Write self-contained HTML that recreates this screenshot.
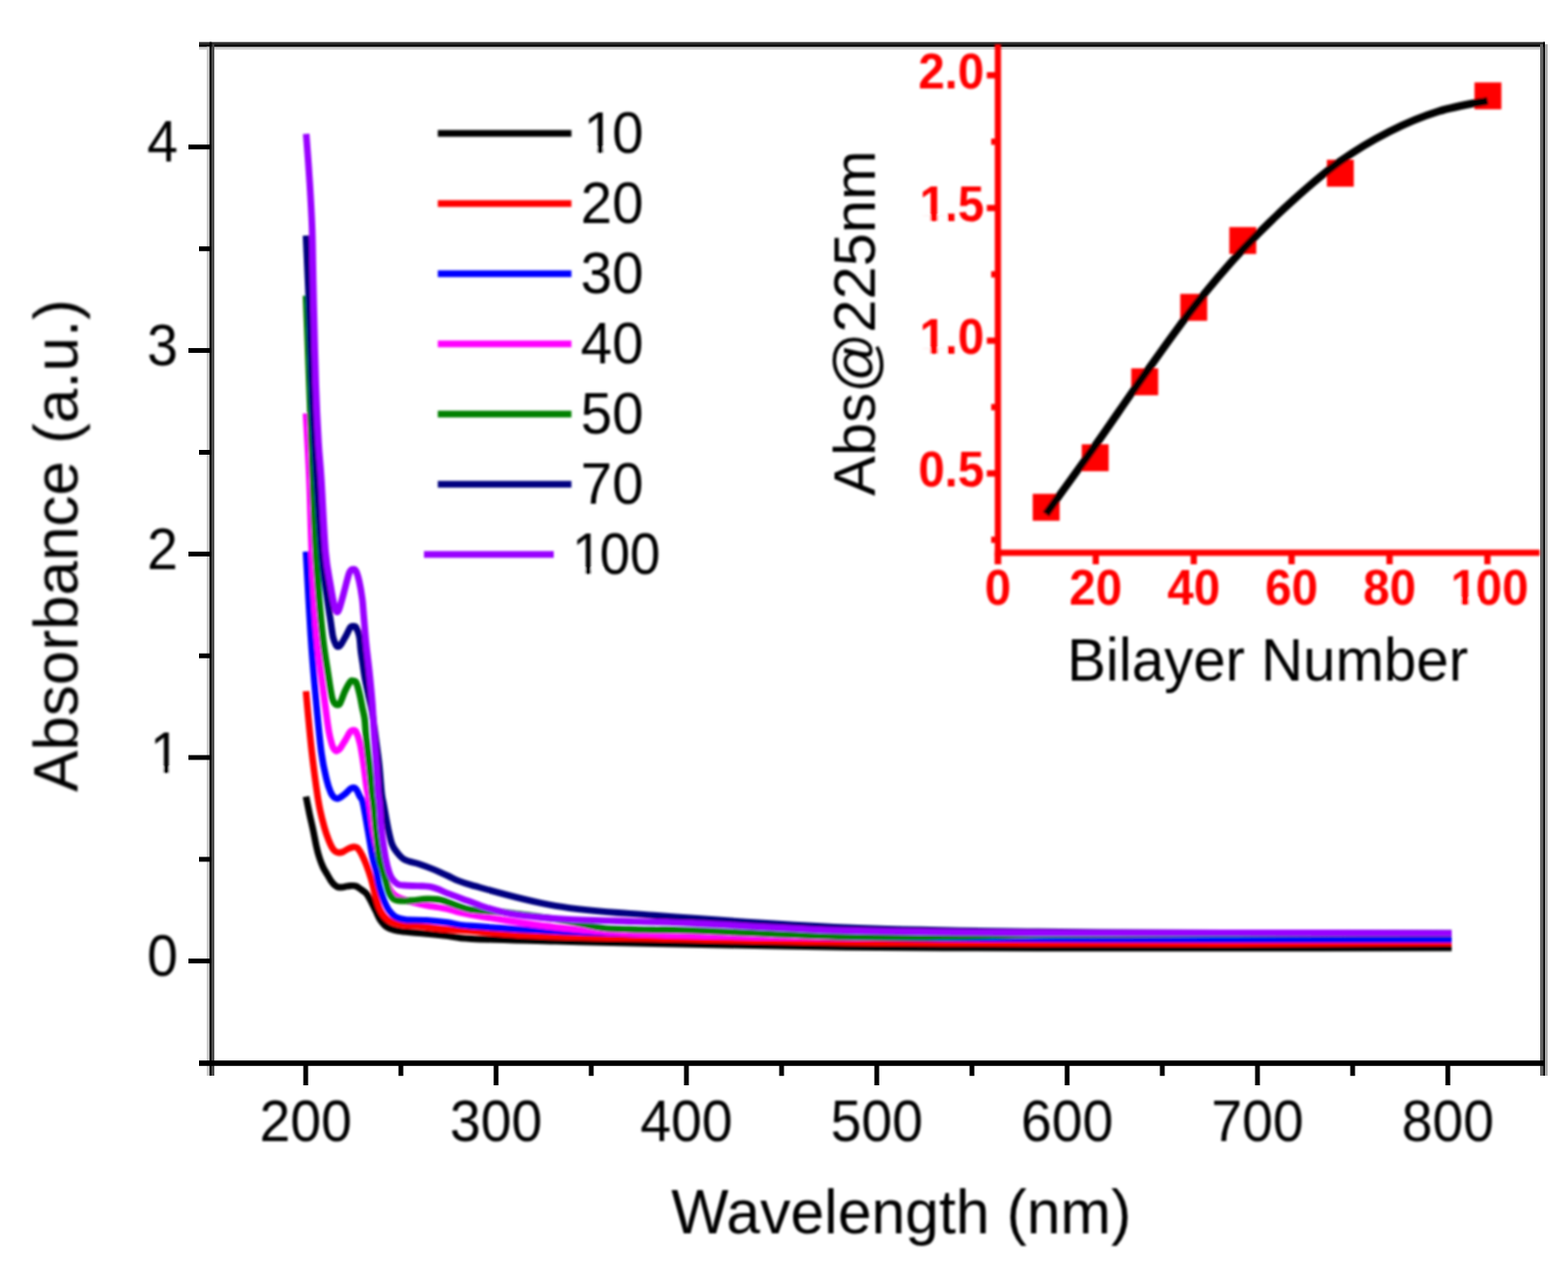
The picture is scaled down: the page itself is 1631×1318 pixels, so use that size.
<!DOCTYPE html>
<html lang="en">
<head>
<meta charset="utf-8">
<title>UV-Vis absorbance spectra</title>
<style>
html,body{margin:0;padding:0;background:#ffffff;}
body{width:1631px;height:1318px;}
svg{display:block;}
</style>
</head>
<body>
<svg width="1631" height="1318" viewBox="0 0 1631 1318" role="img" aria-label="UV-Vis absorbance spectra of multilayer films with inset of absorbance at 225 nm versus bilayer number">
<defs>
<filter id="soft" filterUnits="userSpaceOnUse" x="0" y="0" width="1631" height="1318"><feGaussianBlur stdDeviation="0.90"/></filter>
<filter id="soft2" filterUnits="userSpaceOnUse" x="0" y="0" width="1631" height="1318"><feGaussianBlur stdDeviation="0.45"/></filter>
</defs>
<rect x="0" y="0" width="1631" height="1318" fill="#ffffff"/>
<g filter="url(#soft)">
<g fill="none" stroke-width="6.9" stroke-linejoin="round" stroke-linecap="butt">
<path stroke="#000000" d="M318.3 828.6 C318.9 831.7 320.8 841.3 322.0 847.0 C323.2 852.7 324.4 857.5 325.6 863.0 C326.8 868.5 327.9 875.0 329.0 880.0 C330.1 885.0 331.3 889.3 332.5 893.0 C333.7 896.7 334.8 899.3 336.0 902.0 C337.2 904.7 338.6 906.6 340.0 909.0 C341.4 911.4 343.0 914.4 344.4 916.4 C345.8 918.4 347.1 919.9 348.5 921.0 C349.9 922.1 350.8 922.8 352.5 923.0 C354.2 923.2 356.6 922.8 358.5 922.5 C360.4 922.2 362.6 921.7 364.0 921.5 C365.4 921.3 366.2 921.4 367.2 921.4 C368.2 921.4 368.8 921.3 370.0 921.8 C371.2 922.3 373.4 923.7 374.6 924.5 C375.8 925.3 376.3 925.6 377.4 926.5 C378.5 927.4 380.0 928.2 381.2 929.7 C382.4 931.2 383.1 932.4 384.7 935.3 C386.3 938.2 388.8 943.4 390.6 947.1 C392.5 950.8 393.7 954.5 395.8 957.4 C397.9 960.3 400.0 963.0 403.1 964.8 C406.2 966.6 408.7 967.4 414.2 968.4 C419.7 969.4 427.6 969.7 436.2 970.6 C444.8 971.5 456.7 972.6 465.7 973.6 C474.7 974.6 471.3 975.6 490.0 976.5 C508.7 977.4 546.3 978.2 578.0 979.1 C609.7 980.0 629.7 980.6 680.0 981.6 C730.3 982.6 813.3 984.4 880.0 985.2 C946.7 986.0 1013.3 986.0 1080.0 986.2 C1146.7 986.4 1208.3 986.4 1280.0 986.4 C1351.7 986.4 1471.7 986.1 1510.0 986.0"/>
<path stroke="#ff0000" d="M318.3 719.0 C318.7 723.5 319.7 735.4 320.7 746.0 C321.7 756.6 323.0 770.4 324.4 782.9 C325.8 795.4 327.9 811.0 329.3 821.0 C330.7 831.0 331.6 836.3 333.0 843.0 C334.4 849.7 336.1 856.0 337.5 861.0 C338.9 866.0 340.2 869.6 341.5 873.0 C342.8 876.4 344.1 879.4 345.3 881.5 C346.5 883.6 347.3 884.6 348.5 885.5 C349.7 886.4 351.1 886.9 352.5 887.0 C353.9 887.1 355.4 886.7 357.0 886.0 C358.6 885.3 360.3 883.8 362.0 883.0 C363.7 882.2 365.9 881.4 367.2 881.1 C368.5 880.8 369.1 881.0 370.0 881.3 C370.9 881.5 371.3 881.2 372.4 882.6 C373.5 884.0 375.4 887.1 376.8 889.9 C378.2 892.7 379.4 895.4 381.0 899.5 C382.6 903.6 384.7 909.7 386.2 914.7 C387.7 919.7 388.5 924.5 389.9 929.4 C391.2 934.3 392.7 940.3 394.3 944.2 C395.9 948.1 397.3 950.5 399.4 953.0 C401.5 955.5 403.7 957.4 406.8 958.9 C409.9 960.4 412.9 961.5 417.8 962.2 C422.7 962.9 429.4 962.6 436.2 963.3 C442.9 964.0 449.3 965.4 458.3 966.2 C467.3 967.1 476.6 967.3 490.0 968.4 C503.4 969.5 520.7 971.5 539.0 972.6 C557.3 973.7 576.5 974.2 600.0 974.8 C623.5 975.4 633.3 975.5 680.0 976.4 C726.7 977.3 813.3 979.4 880.0 980.2 C946.7 981.0 1013.3 981.0 1080.0 981.2 C1146.7 981.4 1208.3 981.7 1280.0 981.6 C1351.7 981.5 1471.7 980.9 1510.0 980.8"/>
<path stroke="#0000ff" d="M318.3 573.8 C319.1 588.2 321.6 635.4 323.2 660.0 C324.8 684.6 326.2 701.0 328.1 721.5 C330.0 742.0 332.3 767.8 334.3 782.9 C336.3 798.0 338.4 805.1 340.0 812.0 C341.6 818.9 342.9 821.6 344.1 824.5 C345.4 827.4 346.4 828.5 347.5 829.5 C348.6 830.5 349.9 830.7 351.0 830.7 C352.1 830.7 352.7 830.3 354.0 829.5 C355.3 828.7 357.1 827.5 358.8 826.0 C360.6 824.5 363.0 821.6 364.5 820.5 C366.0 819.4 366.6 819.3 367.6 819.4 C368.6 819.5 369.3 819.4 370.5 821.0 C371.7 822.6 373.4 826.7 374.6 829.0 C375.8 831.3 376.1 829.3 377.5 835.0 C378.9 840.7 381.0 853.8 382.7 863.4 C384.4 873.0 386.4 885.8 387.8 892.9 C389.2 900.0 390.2 901.1 391.3 906.0 C392.4 910.9 393.1 916.9 394.5 922.0 C395.9 927.1 397.7 932.6 399.4 936.8 C401.1 941.0 402.6 944.3 404.6 947.1 C406.6 949.9 408.4 952.1 411.2 953.7 C414.0 955.3 416.1 956.1 421.5 956.7 C426.9 957.3 436.2 956.9 443.6 957.4 C451.0 957.9 458.0 958.6 465.7 959.6 C473.4 960.6 471.3 961.8 490.0 963.3 C508.7 964.8 546.3 967.1 578.0 968.5 C609.7 969.9 629.7 970.4 680.0 971.5 C730.3 972.6 813.3 974.4 880.0 975.3 C946.7 976.2 1013.3 976.5 1080.0 976.8 C1146.7 977.1 1208.3 977.2 1280.0 977.3 C1351.7 977.4 1471.7 977.3 1510.0 977.3"/>
<path stroke="#ff00ff" d="M318.3 430.0 C318.9 441.7 320.9 476.0 321.9 500.0 C322.9 524.0 323.1 547.1 324.3 573.8 C325.5 600.5 327.2 635.4 329.3 660.0 C331.4 684.6 334.6 705.1 336.7 721.5 C338.8 737.9 340.2 749.5 341.6 758.3 C343.0 767.1 344.2 770.9 345.3 774.5 C346.4 778.1 347.2 778.9 348.0 780.0 C348.8 781.1 349.4 781.4 350.3 781.2 C351.2 781.0 352.1 780.8 353.5 779.0 C354.9 777.2 357.0 773.6 358.8 770.6 C360.6 767.6 363.0 762.8 364.5 761.0 C366.0 759.2 366.6 759.7 367.6 759.8 C368.6 759.9 369.3 759.2 370.5 761.5 C371.7 763.8 373.3 768.1 374.6 773.8 C375.9 779.5 377.2 788.5 378.3 795.9 C379.4 803.2 380.2 811.7 381.2 817.9 C382.1 824.1 382.8 825.4 384.0 833.0 C385.2 840.6 386.6 853.4 388.3 863.4 C390.1 873.4 392.9 886.1 394.5 893.0 C396.1 899.9 396.8 901.0 398.0 905.0 C399.2 909.0 400.7 913.5 402.0 917.0 C403.3 920.5 404.5 923.6 406.0 926.0 C407.5 928.4 409.0 930.0 411.0 931.5 C413.0 933.0 415.0 933.8 418.0 935.0 C421.0 936.2 424.6 937.4 428.9 938.5 C433.2 939.6 437.5 940.7 443.6 941.9 C449.7 943.1 458.0 944.0 465.7 945.6 C473.4 947.2 471.3 948.3 490.0 951.5 C508.7 954.7 546.3 961.2 578.0 964.6 C609.7 968.0 629.7 970.3 680.0 972.0 C730.3 973.7 813.3 974.9 880.0 975.0 C946.7 975.1 1013.3 973.4 1080.0 972.8 C1146.7 972.2 1208.3 971.7 1280.0 971.5 C1351.7 971.3 1471.7 971.5 1510.0 971.5"/>
<path stroke="#008000" d="M318.3 307.5 C318.8 319.6 320.1 354.6 321.0 380.0 C321.9 405.4 323.1 435.0 324.0 460.0 C324.9 485.0 325.6 508.3 326.5 530.0 C327.4 551.7 328.0 568.3 329.5 590.0 C331.0 611.7 333.5 641.2 335.5 660.0 C337.5 678.8 340.0 692.1 341.6 703.0 C343.2 713.9 344.2 720.5 345.3 725.2 C346.4 730.0 347.1 730.2 348.0 731.5 C348.9 732.8 350.0 733.3 351.0 733.2 C352.0 733.1 352.7 733.4 354.0 731.0 C355.3 728.6 357.1 722.7 358.8 719.0 C360.6 715.3 363.0 710.8 364.5 709.0 C366.0 707.2 366.6 708.2 367.6 708.4 C368.6 708.6 369.5 707.9 370.5 710.0 C371.5 712.1 372.8 716.7 373.8 721.0 C374.9 725.3 375.9 731.2 376.8 735.7 C377.7 740.2 378.6 742.9 379.3 748.0 C380.0 753.1 380.0 758.4 380.8 766.4 C381.6 774.4 383.1 786.1 384.2 795.9 C385.2 805.7 386.4 818.6 387.1 825.3 C387.8 832.0 387.9 829.6 388.6 836.0 C389.3 842.4 390.1 853.9 391.1 863.4 C392.1 872.9 393.5 886.5 394.5 892.9 C395.5 899.3 396.1 898.4 397.2 902.0 C398.3 905.6 399.7 910.4 400.9 914.7 C402.1 919.0 403.1 924.6 404.6 928.0 C406.1 931.4 407.5 933.8 409.7 935.3 C411.9 936.8 414.8 936.8 418.0 937.0 C421.2 937.2 424.6 937.1 428.9 936.8 C433.2 936.5 438.7 935.4 443.6 935.3 C448.5 935.2 453.4 935.1 458.3 936.1 C463.2 937.1 467.7 939.5 473.0 941.2 C478.3 942.9 483.0 945.3 490.0 946.4 C497.0 947.5 506.8 947.3 515.0 948.0 C523.2 948.7 529.8 949.6 539.0 950.7 C548.2 951.8 559.8 953.3 570.0 954.8 C580.2 956.3 590.5 958.1 600.0 959.9 C609.5 961.6 617.8 964.1 627.0 965.3 C636.2 966.4 646.2 966.5 655.0 966.8 C663.8 967.1 669.2 967.1 680.0 967.3 C690.8 967.5 686.7 966.7 720.0 967.9 C753.3 969.1 833.3 973.3 880.0 974.4 C926.7 975.5 966.7 974.5 1000.0 974.2 C1033.3 973.9 1033.3 973.1 1080.0 972.6 C1126.7 972.1 1208.3 971.7 1280.0 971.5 C1351.7 971.3 1471.7 971.5 1510.0 971.5"/>
<path stroke="#000080" d="M318.3 245.0 C318.9 259.2 320.9 300.8 322.0 330.0 C323.1 359.2 323.8 391.7 325.0 420.0 C326.2 448.3 327.6 472.3 329.3 500.0 C331.1 527.7 333.6 565.5 335.5 586.0 C337.4 606.5 339.0 612.6 340.4 622.9 C341.8 633.1 343.1 640.8 344.1 647.5 C345.1 654.2 345.6 659.1 346.5 663.0 C347.4 666.9 348.6 669.4 349.5 671.0 C350.4 672.6 351.2 672.8 352.1 672.6 C353.0 672.4 353.7 671.9 355.0 670.0 C356.3 668.1 358.5 663.9 360.1 661.0 C361.7 658.1 363.2 654.1 364.5 652.5 C365.8 650.9 366.6 651.4 367.6 651.5 C368.6 651.6 369.5 651.2 370.5 653.0 C371.5 654.8 373.0 658.1 373.8 662.1 C374.6 666.1 374.7 671.9 375.3 676.8 C375.9 681.7 376.8 686.6 377.5 691.5 C378.2 696.4 378.7 701.0 379.7 706.2 C380.7 711.5 382.1 717.4 383.3 723.0 C384.5 728.6 385.8 732.5 387.0 740.0 C388.2 747.5 389.6 758.7 390.8 768.0 C392.0 777.3 393.4 786.4 394.4 795.9 C395.4 805.4 396.2 818.6 397.0 825.3 C397.8 832.0 397.7 829.6 398.9 836.0 C400.1 842.4 402.5 856.4 404.0 863.4 C405.5 870.4 406.3 874.3 407.7 878.0 C409.1 881.7 409.9 882.8 412.1 885.5 C414.3 888.2 417.0 892.1 420.9 894.3 C424.8 896.5 430.7 897.1 435.7 898.8 C440.7 900.5 445.9 902.4 450.9 904.4 C455.9 906.4 459.2 908.3 465.7 911.0 C472.2 913.7 471.3 915.4 490.0 920.6 C508.7 925.8 546.3 937.0 578.0 942.3 C609.7 947.6 629.7 948.4 680.0 952.2 C730.3 956.0 813.3 962.1 880.0 965.0 C946.7 967.9 1013.3 968.4 1080.0 969.3 C1146.7 970.2 1208.3 970.2 1280.0 970.5 C1351.7 970.8 1471.7 970.9 1510.0 971.0"/>
<path stroke="#9900ff" d="M318.5 139.2 C319.1 147.8 321.2 174.6 322.2 190.7 C323.2 206.8 324.0 220.8 324.6 236.0 C325.2 251.2 325.3 268.0 325.6 282.0 C325.9 296.0 325.9 300.3 326.4 320.0 C326.9 339.7 327.7 376.7 328.5 400.0 C329.3 423.3 330.3 443.3 331.3 460.0 C332.3 476.7 333.1 481.0 334.3 500.0 C335.5 519.0 337.0 555.4 338.6 573.8 C340.2 592.2 342.6 601.2 344.1 610.6 C345.6 620.0 346.8 626.0 347.8 630.3 C348.8 634.6 349.3 635.9 350.2 636.4 C351.1 636.9 351.8 636.3 353.0 633.0 C354.2 629.7 356.0 622.6 357.6 616.8 C359.2 611.0 361.3 602.2 362.5 598.3 C363.7 594.4 364.2 594.2 365.0 593.2 C365.8 592.2 366.6 592.1 367.5 592.2 C368.4 592.3 369.3 592.0 370.3 594.0 C371.3 596.0 372.5 599.7 373.6 604.5 C374.7 609.3 376.0 617.0 376.8 622.9 C377.6 628.8 377.6 632.2 378.3 640.0 C379.0 647.8 379.8 659.6 380.8 669.4 C381.8 679.2 383.1 688.3 384.2 698.9 C385.3 709.5 386.5 721.8 387.4 733.0 C388.2 744.2 388.6 755.9 389.3 766.4 C390.0 776.9 390.8 786.1 391.5 795.9 C392.2 805.7 392.8 818.6 393.3 825.3 C393.8 832.0 394.1 829.6 394.7 836.0 C395.3 842.4 395.6 853.9 396.7 863.4 C397.8 872.9 399.8 885.5 401.1 892.9 C402.5 900.3 403.6 904.0 404.8 907.6 C406.0 911.2 406.7 912.5 408.2 914.5 C409.7 916.5 411.6 918.7 413.6 919.8 C415.6 920.9 417.4 920.7 420.0 921.0 C422.6 921.3 425.6 921.4 428.9 921.5 C432.2 921.6 436.9 921.7 440.0 921.8 C443.1 921.9 444.6 921.8 447.3 922.3 C450.0 922.8 452.9 923.8 456.0 925.0 C459.1 926.2 460.0 927.2 465.7 929.4 C471.4 931.6 483.8 936.0 490.0 938.3 C496.2 940.6 498.3 941.8 503.0 943.3 C507.7 944.8 513.2 946.4 518.0 947.6 C522.8 948.8 524.7 949.5 532.0 950.6 C539.3 951.7 552.2 953.3 562.0 954.3 C571.8 955.3 578.0 955.8 591.0 956.4 C604.0 957.0 618.5 957.3 640.0 958.0 C661.5 958.7 680.0 958.8 720.0 960.5 C760.0 962.2 820.0 966.6 880.0 968.3 C940.0 970.0 1013.3 970.1 1080.0 970.5 C1146.7 970.9 1208.3 970.3 1280.0 970.4 C1351.7 970.5 1471.7 970.8 1510.0 970.9"/>
</g>
</g>
<g filter="url(#soft2)">
<rect x="207.0" y="48.7" width="1400.0" height="2.9" fill="#cccccc"/>
<rect x="207.0" y="43.7" width="1400.0" height="2.4" fill="#333333"/>
<rect x="207.0" y="46.1" width="1400.0" height="2.6" fill="#000000"/>
<rect x="215.0" y="48.7" width="2.9" height="1070.3" fill="#cccccc"/>
<rect x="220.3" y="46.1" width="2.6" height="1072.9" fill="#444444"/>
<rect x="217.9" y="43.7" width="2.4" height="1075.3" fill="#000000"/>
<rect x="1607.0" y="46.1" width="2.8" height="1072.9" fill="#aaaaaa"/>
<rect x="1602.0" y="46.1" width="3.2" height="1072.9" fill="#666666"/>
<rect x="1605.2" y="43.7" width="1.8" height="1075.3" fill="#000000"/>
<rect x="207.0" y="1103.2" width="1400.0" height="5.6" fill="#000000"/>
<g stroke="#000" stroke-width="5.0" fill="none" stroke-linecap="butt">
<line x1="196" y1="999.7" x2="219.3" y2="999.7"/>
<line x1="196" y1="788.0" x2="219.3" y2="788.0"/>
<line x1="196" y1="576.3" x2="219.3" y2="576.3"/>
<line x1="196" y1="364.6" x2="219.3" y2="364.6"/>
<line x1="196" y1="152.9" x2="219.3" y2="152.9"/>
<line x1="207" y1="893.9" x2="219.3" y2="893.9"/>
<line x1="207" y1="682.2" x2="219.3" y2="682.2"/>
<line x1="207" y1="470.5" x2="219.3" y2="470.5"/>
<line x1="207" y1="258.8" x2="219.3" y2="258.8"/>
<line x1="318.0" y1="1106.0" x2="318.0" y2="1129.0"/>
<line x1="516.0" y1="1106.0" x2="516.0" y2="1129.0"/>
<line x1="714.0" y1="1106.0" x2="714.0" y2="1129.0"/>
<line x1="912.0" y1="1106.0" x2="912.0" y2="1129.0"/>
<line x1="1110.0" y1="1106.0" x2="1110.0" y2="1129.0"/>
<line x1="1308.0" y1="1106.0" x2="1308.0" y2="1129.0"/>
<line x1="1506.0" y1="1106.0" x2="1506.0" y2="1129.0"/>
<line x1="417.0" y1="1106.0" x2="417.0" y2="1119.2"/>
<line x1="615.0" y1="1106.0" x2="615.0" y2="1119.2"/>
<line x1="813.0" y1="1106.0" x2="813.0" y2="1119.2"/>
<line x1="1011.0" y1="1106.0" x2="1011.0" y2="1119.2"/>
<line x1="1209.0" y1="1106.0" x2="1209.0" y2="1119.2"/>
<line x1="1407.0" y1="1106.0" x2="1407.0" y2="1119.2"/>
</g>
</g>
<g filter="url(#soft)">
<text transform="translate(185.0 1015.2) scale(0.930 1)" font-family="'Liberation Sans', Arial, Helvetica, sans-serif" font-size="62.0" fill="#000" text-anchor="end">0</text>
<text transform="translate(152.9 803.5) scale(0.930 1)" dx="3.23" font-family="'Liberation Sans', Arial, Helvetica, sans-serif" font-size="62.0" fill="#000" text-anchor="start">1</text>
<rect x="158.32" y="798.17" width="11.76" height="6.83" fill="#fff"/>
<rect x="175.88" y="798.17" width="11.66" height="6.83" fill="#fff"/>
<text transform="translate(185.0 591.8) scale(0.930 1)" font-family="'Liberation Sans', Arial, Helvetica, sans-serif" font-size="62.0" fill="#000" text-anchor="end">2</text>
<text transform="translate(185.0 380.1) scale(0.930 1)" font-family="'Liberation Sans', Arial, Helvetica, sans-serif" font-size="62.0" fill="#000" text-anchor="end">3</text>
<text transform="translate(185.0 168.4) scale(0.930 1)" font-family="'Liberation Sans', Arial, Helvetica, sans-serif" font-size="62.0" fill="#000" text-anchor="end">4</text>
<text transform="translate(318.0 1187.0) scale(0.930 1)" font-family="'Liberation Sans', Arial, Helvetica, sans-serif" font-size="62.0" fill="#000" text-anchor="middle">200</text>
<text transform="translate(516.0 1187.0) scale(0.930 1)" font-family="'Liberation Sans', Arial, Helvetica, sans-serif" font-size="62.0" fill="#000" text-anchor="middle">300</text>
<text transform="translate(714.0 1187.0) scale(0.930 1)" font-family="'Liberation Sans', Arial, Helvetica, sans-serif" font-size="62.0" fill="#000" text-anchor="middle">400</text>
<text transform="translate(912.0 1187.0) scale(0.930 1)" font-family="'Liberation Sans', Arial, Helvetica, sans-serif" font-size="62.0" fill="#000" text-anchor="middle">500</text>
<text transform="translate(1110.0 1187.0) scale(0.930 1)" font-family="'Liberation Sans', Arial, Helvetica, sans-serif" font-size="62.0" fill="#000" text-anchor="middle">600</text>
<text transform="translate(1308.0 1187.0) scale(0.930 1)" font-family="'Liberation Sans', Arial, Helvetica, sans-serif" font-size="62.0" fill="#000" text-anchor="middle">700</text>
<text transform="translate(1506.0 1187.0) scale(0.930 1)" font-family="'Liberation Sans', Arial, Helvetica, sans-serif" font-size="62.0" fill="#000" text-anchor="middle">800</text>
<text transform="translate(937.5 1283.0) scale(0.979 1)" font-family="'Liberation Sans', Arial, Helvetica, sans-serif" font-size="64.5" fill="#000" text-anchor="middle">Wavelength (nm)</text>
<text transform="translate(80.6 567.5) rotate(-90)" font-family="'Liberation Sans', Arial, Helvetica, sans-serif" font-size="64.5" fill="#000" text-anchor="middle">Absorbance (a.u.)</text>
<line x1="455.4" y1="138.7" x2="594.4" y2="138.7" stroke="#000000" stroke-width="6.9"/>
<text transform="translate(604.0 158.7) scale(0.955 1)" dx="3.14 -3.14" font-family="'Liberation Sans', Arial, Helvetica, sans-serif" font-size="61.5" fill="#000" text-anchor="start">10</text>
<rect x="609.47" y="153.41" width="11.95" height="6.79" fill="#fff"/>
<rect x="627.31" y="153.41" width="11.84" height="6.79" fill="#fff"/>
<line x1="455.4" y1="211.7" x2="594.4" y2="211.7" stroke="#ff0000" stroke-width="6.9"/>
<text transform="translate(604.0 231.7) scale(0.955 1)" font-family="'Liberation Sans', Arial, Helvetica, sans-serif" font-size="61.5" fill="#000" text-anchor="start">20</text>
<line x1="455.4" y1="284.7" x2="594.4" y2="284.7" stroke="#0000ff" stroke-width="6.9"/>
<text transform="translate(604.0 304.7) scale(0.955 1)" font-family="'Liberation Sans', Arial, Helvetica, sans-serif" font-size="61.5" fill="#000" text-anchor="start">30</text>
<line x1="455.4" y1="357.7" x2="594.4" y2="357.7" stroke="#ff00ff" stroke-width="6.9"/>
<text transform="translate(604.0 377.7) scale(0.955 1)" font-family="'Liberation Sans', Arial, Helvetica, sans-serif" font-size="61.5" fill="#000" text-anchor="start">40</text>
<line x1="455.4" y1="430.7" x2="594.4" y2="430.7" stroke="#008000" stroke-width="6.9"/>
<text transform="translate(604.0 450.7) scale(0.955 1)" font-family="'Liberation Sans', Arial, Helvetica, sans-serif" font-size="61.5" fill="#000" text-anchor="start">50</text>
<line x1="455.4" y1="503.7" x2="594.4" y2="503.7" stroke="#000080" stroke-width="6.9"/>
<text transform="translate(604.0 523.7) scale(0.955 1)" font-family="'Liberation Sans', Arial, Helvetica, sans-serif" font-size="61.5" fill="#000" text-anchor="start">70</text>
<line x1="441.0" y1="576.7" x2="576.0" y2="576.7" stroke="#9900ff" stroke-width="6.9"/>
<text transform="translate(592.0 596.7) scale(0.925 1)" dx="3.24 -3.24 0.00" font-family="'Liberation Sans', Arial, Helvetica, sans-serif" font-size="61.5" fill="#000" text-anchor="start">100</text>
<rect x="597.33" y="591.41" width="11.62" height="6.79" fill="#fff"/>
<rect x="614.68" y="591.41" width="11.53" height="6.79" fill="#fff"/>
<g stroke="#ff0000" stroke-width="6.5" fill="none">
<line x1="1038.0" y1="46.0" x2="1038.0" y2="587.0"/>
<line x1="1034.8" y1="575.0" x2="1601.5" y2="575.0"/>
<line x1="1026.5" y1="492.5" x2="1038.0" y2="492.5"/>
<line x1="1026.5" y1="354.4" x2="1038.0" y2="354.4"/>
<line x1="1026.5" y1="216.4" x2="1038.0" y2="216.4"/>
<line x1="1026.5" y1="78.3" x2="1038.0" y2="78.3"/>
<line x1="1031" y1="561.5" x2="1038.0" y2="561.5"/>
<line x1="1031" y1="423.5" x2="1038.0" y2="423.5"/>
<line x1="1031" y1="285.4" x2="1038.0" y2="285.4"/>
<line x1="1031" y1="147.4" x2="1038.0" y2="147.4"/>
<line x1="1038.0" y1="575.0" x2="1038.0" y2="587.0"/>
<line x1="1139.8" y1="575.0" x2="1139.8" y2="587.0"/>
<line x1="1241.7" y1="575.0" x2="1241.7" y2="587.0"/>
<line x1="1343.5" y1="575.0" x2="1343.5" y2="587.0"/>
<line x1="1445.4" y1="575.0" x2="1445.4" y2="587.0"/>
<line x1="1547.2" y1="575.0" x2="1547.2" y2="587.0"/>
</g>
<text transform="translate(1023.8 506.4) scale(0.950 1)" font-family="'Liberation Sans', Arial, Helvetica, sans-serif" font-size="52.0" font-weight="bold" fill="#ff0000" text-anchor="end">0.5</text>
<text transform="translate(955.1 368.3) scale(0.950 1)" dx="1.58 -1.58 0.00" font-family="'Liberation Sans', Arial, Helvetica, sans-serif" font-size="52.0" font-weight="bold" fill="#ff0000" text-anchor="start">1.0</text>
<rect x="957.74" y="362.34" width="10.07" height="7.51" fill="#fff"/>
<rect x="975.29" y="362.34" width="9.79" height="7.51" fill="#fff"/>
<text transform="translate(955.1 230.3) scale(0.950 1)" dx="1.58 -1.58 0.00" font-family="'Liberation Sans', Arial, Helvetica, sans-serif" font-size="52.0" font-weight="bold" fill="#ff0000" text-anchor="start">1.5</text>
<rect x="957.74" y="224.29" width="10.07" height="7.51" fill="#fff"/>
<rect x="975.29" y="224.29" width="9.79" height="7.51" fill="#fff"/>
<text transform="translate(1023.8 92.2) scale(0.950 1)" font-family="'Liberation Sans', Arial, Helvetica, sans-serif" font-size="52.0" font-weight="bold" fill="#ff0000" text-anchor="end">2.0</text>
<text transform="translate(1038.0 628.5) scale(0.950 1)" font-family="'Liberation Sans', Arial, Helvetica, sans-serif" font-size="52.0" font-weight="bold" fill="#ff0000" text-anchor="middle">0</text>
<text transform="translate(1139.8 628.5) scale(0.950 1)" font-family="'Liberation Sans', Arial, Helvetica, sans-serif" font-size="52.0" font-weight="bold" fill="#ff0000" text-anchor="middle">20</text>
<text transform="translate(1241.7 628.5) scale(0.950 1)" font-family="'Liberation Sans', Arial, Helvetica, sans-serif" font-size="52.0" font-weight="bold" fill="#ff0000" text-anchor="middle">40</text>
<text transform="translate(1343.5 628.5) scale(0.950 1)" font-family="'Liberation Sans', Arial, Helvetica, sans-serif" font-size="52.0" font-weight="bold" fill="#ff0000" text-anchor="middle">60</text>
<text transform="translate(1445.4 628.5) scale(0.950 1)" font-family="'Liberation Sans', Arial, Helvetica, sans-serif" font-size="52.0" font-weight="bold" fill="#ff0000" text-anchor="middle">80</text>
<text transform="translate(1507.5 628.5) scale(0.950 1)" dx="1.58 -1.58 0.00" font-family="'Liberation Sans', Arial, Helvetica, sans-serif" font-size="52.0" font-weight="bold" fill="#ff0000" text-anchor="start">100</text>
<rect x="1510.10" y="622.49" width="10.07" height="7.51" fill="#fff"/>
<rect x="1527.65" y="622.49" width="9.79" height="7.51" fill="#fff"/>
<rect x="1074.2" y="513.7" width="28" height="28" fill="#ff0000"/>
<rect x="1125.2" y="462.2" width="28" height="28" fill="#ff0000"/>
<rect x="1176.7" y="383.2" width="28" height="28" fill="#ff0000"/>
<rect x="1227.7" y="305.7" width="28" height="28" fill="#ff0000"/>
<rect x="1278.7" y="236.2" width="28" height="28" fill="#ff0000"/>
<rect x="1380.2" y="166.2" width="28" height="28" fill="#ff0000"/>
<rect x="1533.7" y="85.7" width="28" height="28" fill="#ff0000"/>
<path d="M1088.0 534.8 C1096.5 523.0 1121.9 488.0 1139.0 463.8 C1156.1 439.6 1173.4 413.8 1190.5 389.8 C1207.6 365.8 1224.5 341.5 1241.5 319.8 C1258.5 298.1 1275.5 278.1 1292.5 259.8 C1309.5 241.5 1326.6 225.1 1343.5 209.8 C1360.4 194.5 1377.0 180.0 1394.0 167.8 C1411.0 155.6 1428.4 145.5 1445.5 136.8 C1462.6 128.1 1479.5 121.1 1496.5 115.8 C1513.5 110.5 1539.0 106.6 1547.5 104.8" fill="none" stroke="#000" stroke-width="8"/>
<text transform="translate(910.0 336.0) rotate(-90)" font-family="'Liberation Sans', Arial, Helvetica, sans-serif" font-size="62.0" fill="#000" text-anchor="middle">Abs@225nm</text>
<text transform="translate(1318.5 707.5) scale(0.961 1)" font-family="'Liberation Sans', Arial, Helvetica, sans-serif" font-size="63.0" fill="#000" text-anchor="middle">Bilayer Number</text>
</g>
</svg>
</body>
</html>
